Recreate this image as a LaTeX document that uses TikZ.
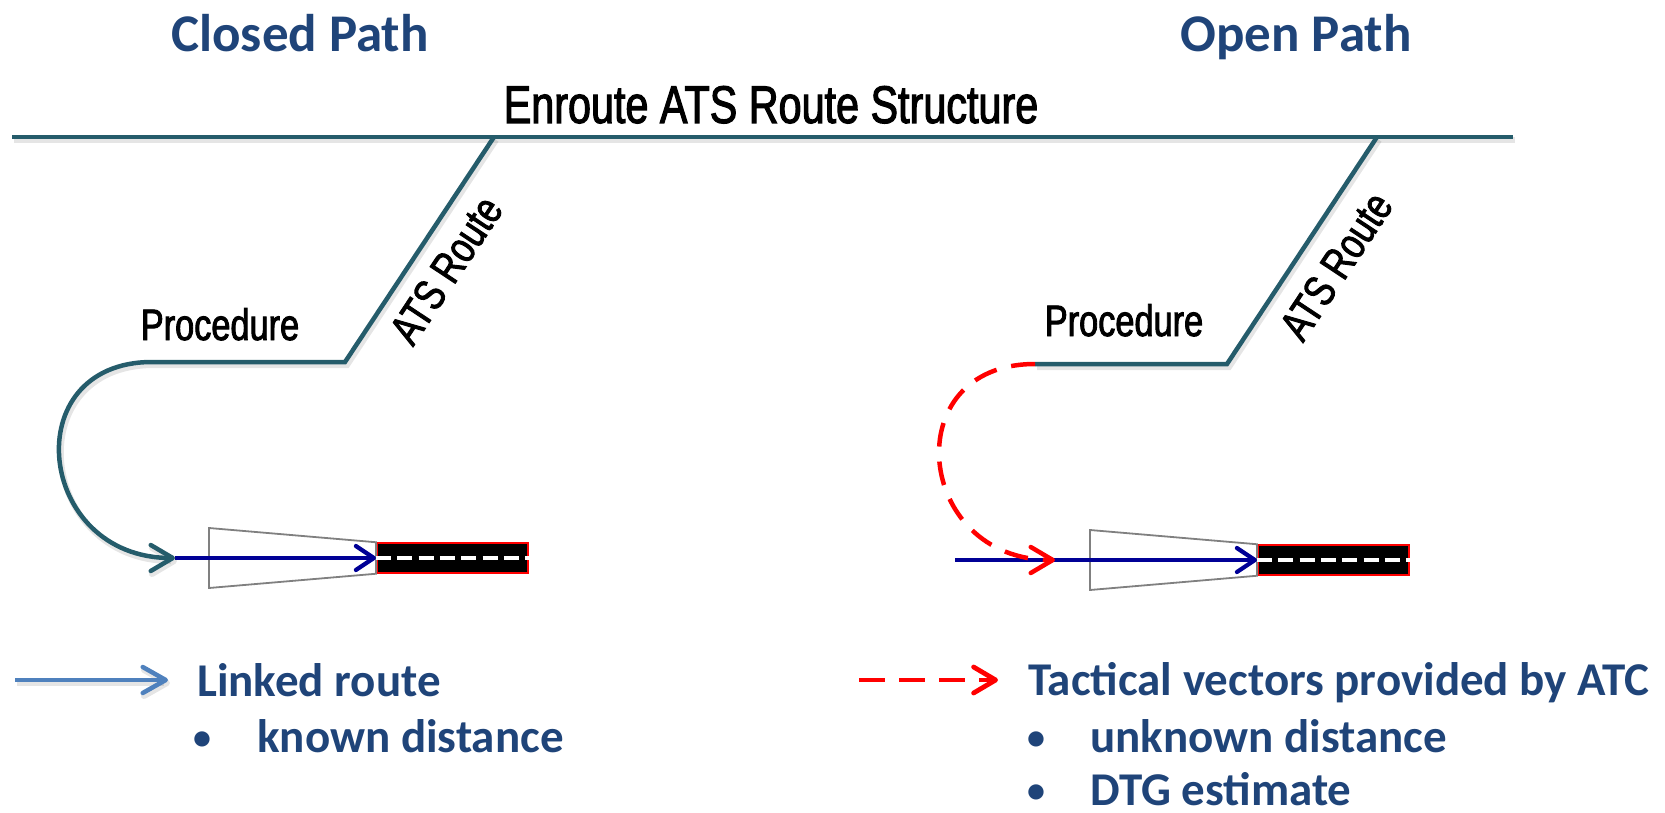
\documentclass[tikz,border=0pt]{standalone}
\usepackage{fontspec}
\usetikzlibrary{arrows.meta,calc}
\newfontfamily\calibrifont{Carlito}
\newfontfamily\condfont[FakeStretch=0.78,FakeBold=2]{Liberation Sans}
\definecolor{routeteal}{HTML}{255C6B}
\definecolor{titleblue}{HTML}{1F4479}
\definecolor{legendblue}{HTML}{4F81BD}
\definecolor{pathnavy}{HTML}{000096}
\definecolor{splaygray}{HTML}{808080}

\begin{document}
\begin{tikzpicture}[x=1pt,y=-1pt,
  softshadow/.style={preaction={draw=black, opacity=0.10, line width=6pt,
      transform canvas={shift={(2pt,-3pt)}}}},
  route/.style={draw=routeteal, line width=4.5pt, line join=miter, softshadow},
  heading/.style={font=\calibrifont\bfseries\fontsize{53}{60}\selectfont,
      text=titleblue, inner sep=0pt, anchor=base},
  legendtext/.style={font=\calibrifont\bfseries\fontsize{47}{56}\selectfont,
      text=titleblue, inner sep=0pt, anchor=base west},
  bulletmark/.style={font=\calibrifont\bfseries\fontsize{36}{40}\selectfont,
      text=titleblue, inner sep=0pt, anchor=base},
  routelabel/.style={font=\condfont\fontsize{44}{48}\selectfont, inner sep=0pt},
  structlabel/.style={font=\condfont\fontsize{53}{58}\selectfont, inner sep=0pt},
  runway/.style={draw=red, line width=1.5pt, fill=black,
      minimum width=151pt, minimum height=30pt, inner sep=0pt, anchor=west},
  centreline/.style={draw=white, line width=4pt, dash pattern=on 15pt off 6.3pt},
  splay/.style={draw=splaygray, line width=1.8pt, line join=miter},
  approach/.style={draw=pathnavy, line width=4.2pt,
      -{Straight Barb[length=18pt, width=24pt, round]}},
  vectors/.style={draw=red, line width=4.5pt, dash pattern=on 24pt off 15pt,
      -{Straight Barb[length=22pt, width=26pt, round]}}
]
\useasboundingbox (0,0) rectangle (1665,813);

% headings
\node[heading] (closedhdr) at (300,52) {Closed Path};
\node[heading] (openhdr)   at (1296,52) {Open Path};
\node[structlabel, anchor=base] (enroute) at (771,123) {Enroute ATS Route Structure};

% enroute structure
\coordinate (enW) at (12,137);
\coordinate (enE) at (1513,137);
\draw[route] (enW) -- (enE);

% closed path: ATS route, procedure and linked turn to final
\coordinate (atsTopL)  at (494,137);
\coordinate (cornerL)  at (345,362);
\coordinate (procL)    at (152,362);
\coordinate (turnEndL) at (175,558);
\draw[route, -{Straight Barb[length=22pt, width=26pt, round]}]
  (atsTopL) -- (cornerL) -- (procL)
  .. controls (15,362) and (36,558) .. (turnEndL);
\node[routelabel, rotate=56.5] (atsL) at (446,270) {ATS Route};
\node[routelabel, anchor=base] (procLblL) at (220,340) {Procedure};

% closed path: runway with approach splay
\node[runway] (rwyL) at (376,558) {};
\draw[splay] ($(rwyL.west)+(-167,-30)$) -- (rwyL.north west)
  -- (rwyL.south west) -- ($(rwyL.west)+(-167,30)$) -- cycle;
\draw[centreline] (rwyL.west) -- (rwyL.east);
\draw[approach] (turnEndL) -- (rwyL.west);

% open path: ATS route and procedure
\coordinate (atsTopR) at (1377,137);
\coordinate (cornerR) at (1227,364);
\coordinate (procR)   at (1035,364);
\draw[route] (atsTopR) -- (cornerR) -- (procR);
\node[routelabel, rotate=56.5] (atsR) at (1336,266) {ATS Route};
\node[routelabel, anchor=base] (procLblR) at (1124,336) {Procedure};

% open path: runway with approach splay
\node[runway] (rwyR) at (1257,560) {};
\draw[splay] ($(rwyR.west)+(-167,-30)$) -- (rwyR.north west)
  -- (rwyR.south west) -- ($(rwyR.west)+(-167,30)$) -- cycle;
\draw[centreline] (rwyR.west) -- (rwyR.east);
\coordinate (apprStartR) at (955,560);
\draw[approach] (apprStartR) -- (rwyR.west);

% open path: tactical vectors from the procedure to the approach
\coordinate (vecEndR) at (1055,560);
\draw[vectors] (procR) .. controls (895,364) and (915,560) .. (vecEndR);

% legend: linked route
\coordinate (keyLinkA) at (15,680);
\coordinate (keyLinkB) at (168,680);
\draw[draw=legendblue, line width=4.5pt, softshadow,
      -{Straight Barb[length=23pt, width=26pt, round]}] (keyLinkA) -- (keyLinkB);
\node[legendtext] (linked) at (197,696) {Linked route};
\node[bulletmark] (bulL1) at (202,749) {•};
\node[legendtext] (known) at (257,752) {known distance};

% legend: tactical vectors
\coordinate (keyVecA) at (859,680);
\coordinate (keyVecB) at (998,680);
\draw[draw=red, line width=4.8pt, dash pattern=on 26pt off 14pt,
      -{Straight Barb[length=22pt, width=26pt, round]}] (keyVecA) -- (keyVecB);
\node[legendtext] (tactical) at (1028,695) {Tactical vectors provided by ATC};
\node[bulletmark] (bulR1) at (1036,749) {•};
\node[legendtext] (unknown) at (1090,752) {unknown distance};
\node[bulletmark] (bulR2) at (1036,802) {•};
\node[legendtext] (dtg) at (1090,805) {DTG estimate};
\end{tikzpicture}
\end{document}
